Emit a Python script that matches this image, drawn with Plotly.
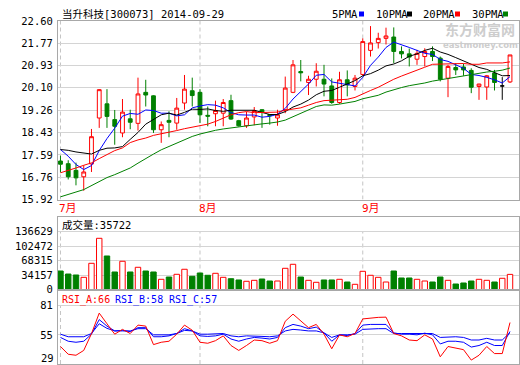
import pandas as pd
import plotly.graph_objects as go

# ---------------- data ----------------
all_days = pd.bdate_range("2014-07-08", "2014-09-29")
dates = [d.strftime("%Y-%m-%d") for d in all_days if d.strftime("%Y-%m-%d") != "2014-09-08"]

opens = [17.36, 17.26, 17.01, 16.77, 17.25, 18.97, 19.50, 18.91, 18.41, 18.94,
         18.77, 19.93, 19.80, 18.53, 18.88, 18.78, 19.53, 19.99, 19.93, 19.07,
         19.13, 19.15, 19.62, 18.87, 18.68, 19.01, 19.28, 19.10, 18.97, 19.28,
         19.93, 20.71, 20.30, 20.42, 20.42, 20.17, 19.55, 20.40, 20.15, 20.60,
         21.50, 21.79, 21.95, 22.00, 21.46, 21.37, 21.17, 21.27, 21.46, 21.21,
         20.46, 20.86, 20.88, 20.75, 20.15, 20.13, 20.65, 20.17, 20.32]
highs = [17.56, 17.39, 17.30, 17.20, 18.56, 20.05, 20.05, 19.27, 19.68, 19.28,
         20.48, 20.40, 19.82, 18.84, 19.22, 19.72, 20.58, 20.48, 20.05, 19.40,
         19.62, 19.68, 19.84, 18.90, 19.20, 19.38, 19.30, 19.12, 19.28, 20.52,
         21.14, 21.14, 20.55, 21.02, 20.96, 20.45, 20.70, 20.75, 20.58, 21.95,
         22.41, 22.16, 22.35, 22.36, 21.65, 21.57, 21.52, 21.58, 21.65, 21.27,
         20.96, 21.02, 21.00, 20.83, 20.25, 20.58, 20.77, 20.50, 21.33]
lows = [16.93, 16.67, 16.45, 16.25, 16.95, 18.60, 18.60, 17.97, 18.25, 18.55,
        18.50, 19.40, 18.41, 18.04, 18.25, 18.53, 19.28, 19.40, 18.78, 18.66,
        18.66, 18.66, 18.90, 18.65, 18.60, 18.70, 18.60, 18.72, 18.68, 19.15,
        19.90, 20.34, 19.83, 20.15, 19.78, 19.50, 19.50, 19.78, 20.00, 20.55,
        21.27, 21.57, 21.72, 21.02, 21.20, 20.90, 20.96, 20.90, 21.10, 20.34,
        19.75, 20.58, 20.55, 19.90, 19.65, 19.65, 20.00, 19.65, 20.28]
closes = [17.24, 16.77, 16.73, 16.95, 18.27, 20.03, 19.03, 18.66, 19.19, 18.81,
          19.87, 19.83, 18.53, 18.72, 18.81, 19.34, 20.05, 19.81, 19.09, 19.04,
          19.25, 19.55, 18.93, 18.68, 18.97, 19.25, 19.18, 19.06, 19.09, 20.09,
          20.96, 20.66, 20.42, 20.72, 20.24, 19.55, 20.40, 20.21, 20.46, 21.83,
          21.78, 21.95, 22.04, 21.46, 21.37, 21.25, 21.39, 21.46, 21.27, 20.42,
          20.90, 20.77, 20.77, 20.12, 20.24, 20.55, 20.30, 20.17, 21.33]
volumes = [43700, 36600, 34300, 28800, 61900, 121000, 79200, 41400, 66700, 41400,
           52500, 43700, 41400, 24100, 29500, 35900, 47800, 31200, 39000, 33600,
           38300, 28800, 25500, 22500, 19400, 21700, 24800, 20100, 20100, 50100,
           59600, 29500, 21700, 17000, 22500, 22500, 24100, 17700, 12300, 43000,
           33600, 28800, 17700, 43700, 27200, 27200, 24100, 20100, 17700, 29500,
           21700, 13000, 15400, 20100, 24100, 21700, 17700, 26500, 35722]
ma5 = [17.79, 17.54, 17.23, 17.04, 17.19, 17.75, 18.20, 18.59, 19.04, 19.14,
       19.11, 19.27, 19.25, 19.15, 19.15, 19.05, 19.09, 19.35, 19.42, 19.47,
       19.45, 19.35, 19.17, 19.09, 19.08, 19.08, 19.00, 19.03, 19.11, 19.33,
       19.68, 19.97, 20.24, 20.57, 20.60, 20.32, 20.27, 20.22, 20.17, 20.49,
       20.94, 21.25, 21.61, 21.81, 21.72, 21.61, 21.50, 21.39, 21.35, 21.16,
       21.09, 20.96, 20.83, 20.60, 20.56, 20.49, 20.40, 20.28, 20.52]
ma10 = [17.79, 17.76, 17.70, 17.65, 17.62, 17.76, 17.84, 17.85, 17.90, 18.17,
        18.43, 18.74, 18.92, 19.09, 19.15, 19.08, 19.18, 19.30, 19.29, 19.31,
        19.25, 19.22, 19.26, 19.26, 19.27, 19.26, 19.18, 19.10, 19.10, 19.21,
        19.38, 19.49, 19.64, 19.84, 19.97, 20.00, 20.12, 20.23, 20.37, 20.55,
        20.63, 20.76, 20.92, 20.99, 21.11, 21.28, 21.37, 21.50, 21.58, 21.44,
        21.35, 21.23, 21.11, 20.97, 20.86, 20.79, 20.68, 20.55, 20.56]
ma20 = [16.92, 17.00, 17.10, 17.20, 17.29, 17.45, 17.60, 17.75, 17.85, 18.05,
        18.15, 18.22, 18.32, 18.38, 18.42, 18.50, 18.57, 18.62, 18.68, 18.74,
        18.84, 18.98, 19.09, 19.17, 19.21, 19.17, 19.18, 19.20, 19.19, 19.26,
        19.31, 19.35, 19.45, 19.55, 19.62, 19.63, 19.65, 19.67, 19.74, 19.88,
        20.00, 20.12, 20.28, 20.42, 20.54, 20.64, 20.75, 20.87, 20.98, 20.99,
        20.99, 20.99, 21.01, 20.98, 20.98, 21.03, 21.03, 21.03, 21.07]
ma30 = [16.02, 16.10, 16.20, 16.29, 16.45, 16.60, 16.74, 16.85, 16.97, 17.10,
        17.28, 17.46, 17.62, 17.78, 17.90, 18.05, 18.17, 18.28, 18.37, 18.45,
        18.51, 18.56, 18.60, 18.65, 18.69, 18.72, 18.75, 18.78, 18.82, 18.89,
        19.02, 19.15, 19.27, 19.40, 19.46, 19.45, 19.49, 19.54, 19.59, 19.69,
        19.75, 19.82, 19.94, 20.03, 20.11, 20.18, 20.22, 20.28, 20.35, 20.40,
        20.45, 20.49, 20.55, 20.60, 20.64, 20.69, 20.72, 20.76, 20.84]
rsi_a = [44.6, 37.7, 36.8, 41.1, 56.0, 74.4, 64.9, 55.6, 59.9, 56.2,
         63.7, 62.8, 46.3, 48.4, 49.3, 55.6, 63.7, 59.1, 48.4, 47.5,
         49.8, 54.1, 45.5, 41.1, 45.5, 50.4, 49.8, 47.5, 49.8, 67.1,
         73.5, 67.1, 61.4, 64.3, 55.6, 42.6, 55.0, 53.3, 56.2, 69.2,
         70.1, 70.6, 70.8, 56.2, 54.1, 50.4, 49.8, 55.0, 51.3, 35.4,
         44.6, 43.5, 41.8, 32.5, 36.8, 44.6, 38.3, 38.3, 66.0]
rsi_b = [52.7, 49.3, 48.4, 49.3, 55.6, 68.6, 62.8, 58.5, 59.0, 57.9,
         61.4, 61.4, 53.3, 53.3, 54.1, 56.2, 60.5, 58.5, 54.1, 53.6,
         54.1, 55.6, 51.3, 49.3, 51.3, 52.7, 52.1, 51.3, 52.7, 61.4,
         64.3, 62.8, 60.5, 61.9, 56.8, 49.3, 55.0, 54.4, 56.2, 63.7,
         64.3, 64.3, 64.3, 56.8, 55.6, 55.6, 55.0, 56.5, 55.0, 46.9,
         49.3, 49.3, 48.4, 44.1, 45.5, 48.4, 45.5, 45.5, 58.0]
rsi_c = [55.6, 53.3, 53.3, 53.3, 56.2, 64.9, 60.8, 58.5, 58.5, 58.5,
         60.5, 60.5, 55.0, 55.0, 55.0, 56.2, 59.0, 58.5, 55.6, 55.6,
         55.6, 56.2, 54.1, 53.3, 54.1, 54.1, 53.6, 53.3, 54.1, 58.5,
         59.9, 59.3, 58.5, 58.5, 56.8, 52.7, 55.0, 55.0, 55.6, 59.9,
         60.5, 60.5, 60.5, 56.2, 56.2, 56.2, 56.2, 56.5, 56.2, 52.7,
         53.3, 53.3, 52.7, 50.4, 50.4, 51.9, 50.4, 50.4, 57.0]

price_ticks = [15.92, 16.76, 17.59, 18.43, 19.26, 20.10, 20.93, 21.77, 22.60]
volume_ticks = [0, 34157, 68315, 102472, 136629]
rsi_ticks = [29, 55, 81]
stock_title = "当升科技[300073] 2014-09-29"
ma_names = ["5PMA", "10PMA", "20PMA", "30PMA"]
volume_name = "成交量"
rsi_names = ["RSI_A", "RSI_B", "RSI_C"]

# ---------------- style ----------------
W, H = 520, 365
L, R = 58, 1
PW = W - L - R
RED, GREEN, BLUE, BLACK = "#ff0000", "#008000", "#0000ff", "#000000"
BORDER, GRID, DASH = "#a8a8a8", "#d4d4d4", "#c4c4c4"
MONO = "DejaVu Sans Mono, Noto Sans CJK SC, sans-serif"
CJK = "Noto Sans CJK SC, sans-serif"


def fx(px):
    return (px - L) / PW


def fy(py):
    return 1 - py / H


def note(px, py, text, color=BLACK, size=10.5, family=MONO, xanchor="left", **kw):
    return dict(x=fx(px), y=fy(py), xref="paper", yref="paper", text=text,
                showarrow=False, xanchor=xanchor, yanchor="middle",
                font=dict(family=family, size=size, color=color), **kw)


n = len(dates)
idx = list(range(n))

fig = go.Figure()

# candles
main_i = [i for i in idx if opens[i] != closes[i]]
doji_i = [i for i in idx if opens[i] == closes[i]]
fig.add_trace(go.Candlestick(
    x=main_i,
    open=[opens[i] for i in main_i], high=[highs[i] for i in main_i],
    low=[lows[i] for i in main_i], close=[closes[i] for i in main_i],
    increasing=dict(line=dict(color=RED, width=1), fillcolor="#ffffff"),
    decreasing=dict(line=dict(color=GREEN, width=1), fillcolor=GREEN),
    whiskerwidth=0, xaxis="x", yaxis="y", hoverinfo="skip"))
if doji_i:
    fig.add_trace(go.Candlestick(
        x=doji_i,
        open=[opens[i] for i in doji_i], high=[highs[i] for i in doji_i],
        low=[lows[i] for i in doji_i], close=[closes[i] for i in doji_i],
        increasing=dict(line=dict(color=BLACK, width=1), fillcolor=BLACK),
        decreasing=dict(line=dict(color=BLACK, width=1), fillcolor=BLACK),
        whiskerwidth=0, xaxis="x", yaxis="y", hoverinfo="skip"))

# moving averages
for vals, col in zip([ma5, ma10, ma20, ma30], [BLUE, BLACK, RED, GREEN]):
    fig.add_trace(go.Scatter(x=idx, y=vals, mode="lines",
                             line=dict(color=col, width=1),
                             xaxis="x", yaxis="y", hoverinfo="skip"))

# volume
up = [closes[i] >= opens[i] for i in idx]
fig.add_trace(go.Bar(
    x=idx, y=volumes, width=0.7,
    marker=dict(color=["#ffffff" if u else GREEN for u in up],
                line=dict(color=[RED if u else GREEN for u in up], width=1)),
    xaxis="x2", yaxis="y2", hoverinfo="skip"))

# RSI
for vals, col in zip([rsi_c, rsi_b, rsi_a], [BLUE, BLUE, RED]):
    fig.add_trace(go.Scatter(x=idx, y=vals, mode="lines",
                             line=dict(color=col, width=1),
                             xaxis="x3", yaxis="y3", hoverinfo="skip"))

# month separators + labels
months = [int(d[5:7]) for d in dates]
month_starts = [i for i in idx if i == 0 or months[i] != months[i - 1]]
shapes = []
annotations = []
for i in month_starts:
    for xref, yref, y0, y1 in [("x", "y", price_ticks[0], price_ticks[-1]),
                               ("x2", "y2", volume_ticks[0], volume_ticks[-1]),
                               ("x3", "y3", rsi_ticks[0], rsi_ticks[-1])]:
        shapes.append(dict(type="line", xref=xref, yref=yref,
                           x0=i, x1=i, y0=y0, y1=y1, layer="below",
                           line=dict(color=DASH, width=1, dash="4px,3px")))
    annotations.append(dict(x=i, xref="x", y=fy(208), yref="paper",
                            text=f"{months[i]}月", showarrow=False,
                            xanchor="left", yanchor="middle", xshift=-3,
                            font=dict(family=MONO, size=11, color=RED)))

# title
annotations.append(note(60, 14, stock_title))
# MA legend
for name, col, tx, sx in zip(ma_names, [BLUE, BLACK, RED, GREEN],
                             [330, 374, 421, 470], [359, 407, 455, 503]):
    annotations.append(note(tx, 14, name))
    shapes.append(dict(type="rect", xref="paper", yref="paper",
                       x0=fx(sx), x1=fx(sx + 5), y0=fy(16.5), y1=fy(11.5),
                       line=dict(width=0), fillcolor=col))
# watermark
annotations.append(note(480, 29, "<b>东方财富网</b>", color="#cdcdcd", size=14,
                        family=CJK, xanchor="center"))
annotations.append(note(480, 45, "<b>eastmoney.com</b>", color="#cdcdcd", size=8.5,
                        family="DejaVu Sans, sans-serif", xanchor="center"))
# volume label
annotations.append(note(60, 225, f"{volume_name}:{volumes[-1]}"))
# RSI labels
for name, vals, col, tx in zip(rsi_names, [rsi_a, rsi_b, rsi_c], [RED, BLUE, BLUE], [60, 113, 167]):
    annotations.append(note(tx, 300, f"{name}:{int(round(vals[-1]))}", color=col, size=10))
# bottom RSI tick label
annotations.append(note(56, 358, str(rsi_ticks[0]), xanchor="right"))

xr = [-0.32, n - 1 + 1.16]
xcommon = dict(range=xr, showticklabels=False, showgrid=False, zeroline=False,
               showline=True, mirror=True, linecolor=BORDER, linewidth=1,
               ticks="", fixedrange=True)
ycommon = dict(showgrid=True, gridcolor=GRID, gridwidth=1, zeroline=False,
               showline=True, mirror=True, linecolor=BORDER, linewidth=1,
               ticks="", ticklabelstandoff=2, fixedrange=True,
               tickfont=dict(family=MONO, size=10.5, color=BLACK))

vol_top = volume_ticks[-1] + (231.7 - 217) * volume_ticks[-1] / (289.5 - 231.7)
rsi_top = rsi_ticks[-1] + (305.7 - 289.5) * (rsi_ticks[-1] - rsi_ticks[0]) / (364 - 305.7)

fig.update_layout(
    width=W, height=H,
    margin=dict(l=L, r=R, t=0, b=0, autoexpand=False),
    paper_bgcolor="#ffffff", plot_bgcolor="#ffffff",
    showlegend=False,
    xaxis=dict(**xcommon, anchor="y", domain=[0, 1], rangeslider=dict(visible=False)),
    xaxis2=dict(**xcommon, anchor="y2", domain=[0, 1], matches="x"),
    xaxis3=dict(**xcommon, anchor="y3", domain=[0, 1], matches="x"),
    yaxis=dict(**ycommon, anchor="x", domain=[fy(199.5), fy(21)],
               range=[price_ticks[0], price_ticks[-1]],
               tickvals=price_ticks, ticktext=[f"{v:.2f}" for v in price_ticks]),
    yaxis2=dict(**ycommon, anchor="x2", domain=[fy(289.5), fy(217)],
                range=[0, vol_top],
                tickvals=volume_ticks, ticktext=[str(v) for v in volume_ticks]),
    yaxis3=dict(**ycommon, anchor="x3", domain=[fy(364), fy(289.5)],
                range=[rsi_ticks[0], rsi_top],
                tickvals=rsi_ticks[1:], ticktext=[str(v) for v in rsi_ticks[1:]]),
    shapes=shapes,
    annotations=annotations,
)

fig.write_html("out.html",
               config={"displayModeBar": False, "staticPlot": True},
               post_script=["document.body.style.margin='0';document.body.style.overflow='hidden';"])
